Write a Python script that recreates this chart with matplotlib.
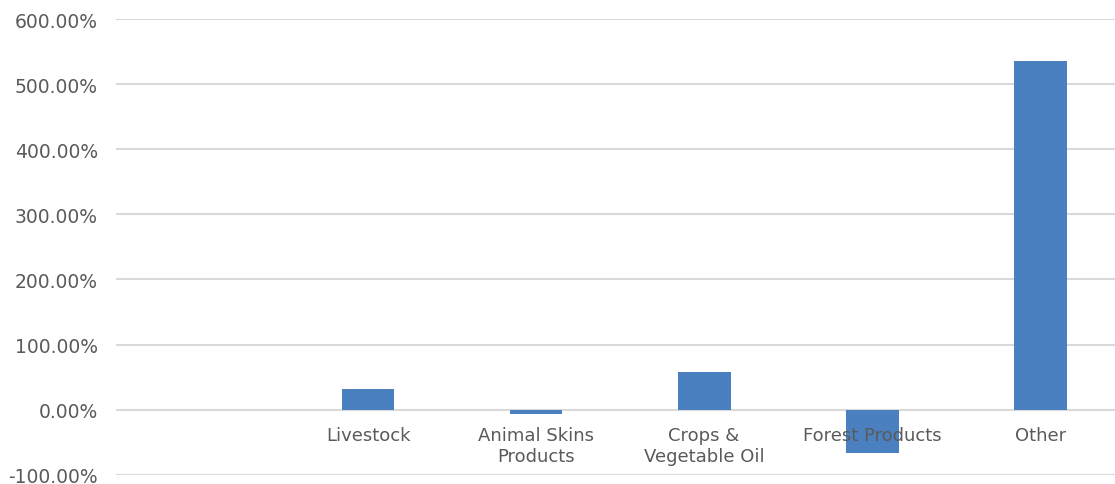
import matplotlib.pyplot as plt
import numpy as np

categories = ["", "Livestock", "Animal Skins\nProducts", "Crops &\nVegetable Oil",
              "Forest Products", "Other"]
values = [np.nan, 31.3, -7.5, 58.5, -67.5, 536.0]
yticks = [-100, 0, 100, 200, 300, 400, 500, 600]

FONT = ["DejaVu Sans"]
GREY = "#5a5a5a"

fig = plt.figure(figsize=(11.15, 4.85), dpi=100)
ax = fig.add_axes([116 / 1115, 1 - 475.6 / 485, 1 - 116 / 1115, (475.6 - 20.3) / 485])

x = np.arange(len(categories))
ax.bar(x, values, width=0.315, color="#4a80c0", zorder=3)

ax.set_ylim(-100, 600)
ax.set_xlim(-0.5, 5.446)
ax.set_yticks(yticks)
ax.set_yticklabels([f"{v:.2f}%" for v in yticks])
ax.set_xticks([])

ax.grid(axis="y", color="#d9d9d9", linewidth=1.5, zorder=0)
for s in ax.spines.values():
    s.set_visible(False)
ax.tick_params(axis="y", length=0, labelsize=13.5, colors=GREY, pad=13)
for lbl in ax.get_yticklabels():
    lbl.set_family(FONT)

# x labels sit just below the zero line
for xi, c in zip(x, categories):
    ax.text(xi, -26, c, ha="center", va="top", fontsize=13, color=GREY,
            family=FONT, linespacing=1.15)

fig.savefig("out.png", dpi=100)
